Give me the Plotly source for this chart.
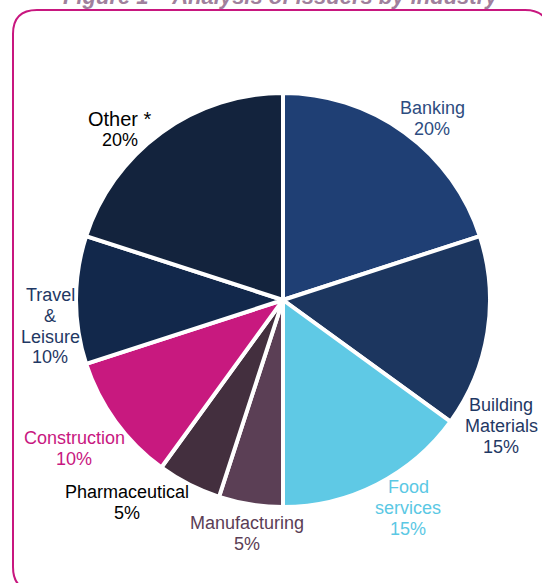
import plotly.graph_objects as go

W, H = 542, 583

categories = ["Banking", "Building Materials", "Food services", "Manufacturing",
              "Pharmaceutical", "Construction", "Travel & Leisure", "Other *"]
shares = [20, 15, 15, 5, 5, 10, 10, 20]
slice_colors = ["#1F3F74", "#1C365F", "#5FC9E5", "#5B3F55",
                "#432F3E", "#C8197F", "#12284B", "#13233D"]
label_lines = [["Banking"], ["Building", "Materials"], ["Food", "services"],
               ["Manufacturing"], ["Pharmaceutical"], ["Construction"],
               ["Travel", "&", "Leisure"], ["Other *"]]
label_colors = ["#2D4C80", "#1F3864", "#5BC8E4", "#5B3D55",
                "#000000", "#C8177F", "#1F3864", "#000000"]
# label anchor (center x, center y of first line) in pixels
label_pos = [(432, 108), (501, 405), (408, 487), (247, 523),
             (127, 492), (74, 438), (50, 295), (120, 119)]
line_gap = 20.8

title_text = "Figure 1 \u2013 Analysis of issuers by industry"

def px(x):
    return x / W

def py(y):
    return 1 - y / H

cx, cy, r = 283, 300, 207

fig = go.Figure(go.Pie(
    labels=categories,
    values=shares,
    sort=False,
    direction="clockwise",
    rotation=0,
    marker=dict(colors=slice_colors, line=dict(color="white", width=4)),
    textinfo="none",
    hoverinfo="skip",
    showlegend=False,
    domain=dict(x=[px(cx - r), px(cx + r)], y=[py(cy + r), py(cy - r)]),
))

annotations = []
for name, val, lines, col, (lx, ly) in zip(categories, shares, label_lines,
                                          label_colors, label_pos):
    all_lines = lines + [f"{val}%"]
    for i, t in enumerate(all_lines):
        size = 20 if t == "Other *" else 18
        annotations.append(dict(
            x=px(lx), y=py(ly + i * line_gap), xref="paper", yref="paper",
            text=t, showarrow=False, xanchor="center", yanchor="middle",
            font=dict(family="Liberation Sans, Arial, sans-serif", size=size, color=col),
        ))

annotations.append(dict(
    x=px(281), y=py(-4), xref="paper", yref="paper", text=f"<b><i>{title_text}</i></b>",
    showarrow=False, xanchor="center", yanchor="middle",
    font=dict(family="Liberation Sans, Arial, sans-serif", size=22, color="#A0809C"),
))

# rounded frame
x0, y0, x1, y1, rr = 13, 10, 549, 591, 24
path = (f"M {px(x0+rr)},{py(y0)} L {px(x1-rr)},{py(y0)} "
        f"Q {px(x1)},{py(y0)} {px(x1)},{py(y0+rr)} "
        f"L {px(x1)},{py(y1-rr)} Q {px(x1)},{py(y1)} {px(x1-rr)},{py(y1)} "
        f"L {px(x0+rr)},{py(y1)} Q {px(x0)},{py(y1)} {px(x0)},{py(y1-rr)} "
        f"L {px(x0)},{py(y0+rr)} Q {px(x0)},{py(y0)} {px(x0+rr)},{py(y0)} Z")

fig.update_layout(
    width=W, height=H,
    margin=dict(l=0, r=0, t=0, b=0),
    paper_bgcolor="white", plot_bgcolor="white",
    annotations=annotations,
    shapes=[dict(type="path", xref="paper", yref="paper", path=path,
                 line=dict(color="#C8177F", width=2), layer="below")],
)

fig.write_html(
    "out.html",
    config={"displayModeBar": False},
    post_script="document.body.style.margin='0';document.body.style.overflow='hidden';",
)
